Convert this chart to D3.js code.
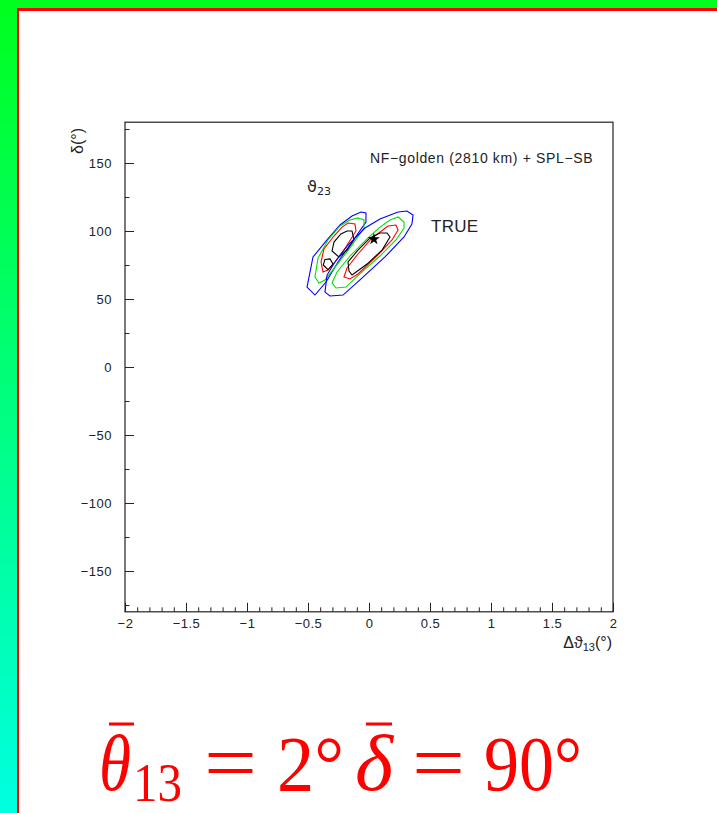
<!DOCTYPE html>
<html><head><meta charset="utf-8">
<script src="https://cdn.jsdelivr.net/npm/d3@7"></script>
<style>body{margin:0;background:#fff;overflow:hidden}svg{display:block}</style>
</head><body>
<script>
// ---- data ----
const xTicks = [-2, -1.5, -1, -0.5, 0, 0.5, 1, 1.5, 2];
const yTicks = [-150, -100, -50, 0, 50, 100, 150];
const xDomain = [-2, 2];
const yDomain = [-180, 180];
// contours: [Δθ13 (deg), δ (deg)]
const leftBlue  = [[-0.066,114.0],[-0.025,113.2],[-0.025,106.6],[-0.139,91.9],[-0.254,77.2],[-0.352,62.5],[-0.443,52.9],[-0.508,58.8],[-0.459,80.9],[-0.344,93.4],[-0.238,104.4],[-0.139,111.0]];
const leftGreen = [[-0.090,109.6],[-0.041,108.1],[-0.041,102.2],[-0.156,87.5],[-0.270,74.3],[-0.361,64.0],[-0.410,61.8],[-0.443,66.2],[-0.418,80.1],[-0.336,93.4],[-0.238,103.7],[-0.156,108.1]];
const leftRed   = [[-0.172,105.9],[-0.115,105.1],[-0.107,100.0],[-0.189,88.2],[-0.279,77.2],[-0.336,71.3],[-0.377,69.9],[-0.393,77.2],[-0.369,86.8],[-0.287,96.3],[-0.221,102.9]];
const leftBlack = [[-0.180,100.0],[-0.139,100.0],[-0.123,93.4],[-0.180,86.0],[-0.246,80.9],[-0.303,85.3],[-0.287,91.9],[-0.230,97.8]];
const leftBlackSmall = [[-0.361,79.0],[-0.320,79.5],[-0.295,75.7],[-0.336,71.5],[-0.375,75.0]];
const rightBlue  = [[0.238,114.0],[0.311,114.7],[0.361,111.8],[0.352,105.1],[0.287,95.6],[0.131,80.9],[-0.074,64.0],[-0.213,52.9],[-0.320,52.2],[-0.361,55.1],[-0.344,67.6],[-0.279,77.2],[-0.172,89.7],[-0.033,102.2],[0.090,108.8]];
const rightGreen = [[0.172,108.1],[0.238,110.3],[0.287,106.6],[0.287,102.2],[0.221,93.4],[0.090,81.6],[-0.057,69.9],[-0.189,58.8],[-0.270,58.1],[-0.303,61.8],[-0.262,69.9],[-0.156,81.6],[-0.008,94.9],[0.090,102.9]];
const rightRed   = [[0.156,103.7],[0.221,104.4],[0.238,100.7],[0.189,93.4],[0.057,80.9],[-0.090,68.4],[-0.156,64.7],[-0.205,66.2],[-0.180,72.8],[-0.090,83.1],[0.025,94.9]];
const rightBlack = [[0.090,98.5],[0.148,98.5],[0.172,95.6],[0.107,86.0],[-0.016,75.7],[-0.139,67.6],[-0.164,70.6],[-0.172,77.2],[-0.090,86.0],[0.008,94.9]];
const trueValue = [0.04, 94];
const contours = [
  {pts: leftBlue, color: "#0000ff"}, {pts: leftGreen, color: "#00e000"}, {pts: leftRed, color: "#ff0000"},
  {pts: leftBlack, color: "#000000"}, {pts: leftBlackSmall, color: "#000000"},
  {pts: rightBlue, color: "#0000ff"}, {pts: rightGreen, color: "#00e000"}, {pts: rightRed, color: "#ff0000"},
  {pts: rightBlack, color: "#000000"}
];

const W = 717, H = 813;
const svg = d3.select("body").append("svg").attr("width", W).attr("height", H);

// frame / background decoration
const defs = svg.append("defs");
const grad = defs.append("linearGradient").attr("id","lg").attr("x1",0).attr("y1",0).attr("x2",0).attr("y2",1);
grad.append("stop").attr("offset","0%").attr("stop-color","rgb(0,255,30)");
grad.append("stop").attr("offset","100%").attr("stop-color","rgb(0,255,225)");
svg.append("rect").attr("x",0).attr("y",0).attr("width",17).attr("height",H).attr("fill","url(#lg)");
svg.append("rect").attr("x",0).attr("y",0).attr("width",W).attr("height",8).attr("fill","rgb(0,255,30)");
svg.append("rect").attr("x",17).attr("y",8).attr("width",W-17).attr("height",3).attr("fill","#ff0000");
svg.append("rect").attr("x",17).attr("y",8).attr("width",2).attr("height",H-8).attr("fill","#ff0000");

const L = 125, R = 613, T = 122.2, B = 611.8;
const x = d3.scaleLinear().domain(xDomain).range([L, R]);
const y = d3.scaleLinear().domain(yDomain).range([B, T]);
const fmt = v => d3.format("")(v).replace("-", "\u2212");
const font = "'Liberation Sans', Arial, Helvetica, sans-serif";
const ink = "#222";

// minor ticks
const xMinor = d3.range(-20, 21).map(i => i / 10);
const yMinor = d3.range(-7, 8).map(i => i * 25);
svg.append("g").attr("transform", `translate(0,${B})`)
  .call(d3.axisBottom(x).tickValues(xMinor).tickSize(-4.5).tickFormat(""))
  .call(g => g.select(".domain").remove());
svg.append("g").attr("transform", `translate(${L},0)`)
  .call(d3.axisLeft(y).tickValues(yMinor).tickSize(-4.5).tickFormat(""))
  .call(g => g.select(".domain").remove());
// major
const styleLabels = g => g.selectAll("text").attr("font-family", font).attr("font-size", 13)
  .attr("letter-spacing", 0.5).attr("fill", ink);
svg.append("g").attr("transform", `translate(0,${B})`)
  .call(d3.axisBottom(x).tickValues(xTicks).tickSize(-9).tickPadding(6.5).tickFormat(fmt))
  .call(g => g.select(".domain").remove())
  .call(styleLabels);
svg.append("g").attr("transform", `translate(${L},0)`)
  .call(d3.axisLeft(y).tickValues(yTicks).tickSize(-9).tickPadding(13).tickFormat(fmt))
  .call(g => g.select(".domain").remove())
  .call(styleLabels);
svg.selectAll(".tick line").attr("stroke", ink);

svg.append("rect").attr("x", L).attr("y", T).attr("width", R - L).attr("height", B - T)
  .attr("fill", "none").attr("stroke", ink).attr("stroke-width", 1.2);

// contours
const line = d3.line().x(d => x(d[0])).y(d => y(d[1])).curve(d3.curveLinearClosed);
svg.append("g").selectAll("path").data(contours).join("path")
  .attr("d", d => line(d.pts)).attr("fill", "none").attr("stroke", d => d.color).attr("stroke-width", 1.1);

// true value star
svg.append("path").attr("d", d3.symbol(d3.symbolStar, 45)())
  .attr("transform", `translate(${x(trueValue[0])},${y(trueValue[1])})`).attr("fill", "#000");

// texts in plot
svg.append("text").attr("x", 370).attr("y", 163).attr("font-family", font).attr("font-size", 14)
  .attr("letter-spacing", 0.65).attr("fill", ink)
  .text("NF\u2212golden (2810 km) + SPL\u2212SB");
svg.append("text").attr("x", 431).attr("y", 231.5).attr("font-family", font).attr("font-size", 17)
  .attr("letter-spacing", 0.3).attr("fill", ink).text("TRUE");
const t23 = svg.append("text").attr("x", 307).attr("y", 192).attr("font-family", "'DejaVu Sans', sans-serif").attr("font-size", 16).attr("fill", ink);
t23.append("tspan").text("\u03D1");
t23.append("tspan").attr("font-size", 11).attr("dy", 3).text("23");

// axis titles
const yl = svg.append("text").attr("transform", "translate(83,154) rotate(-90)").attr("font-family", font).attr("font-size", 16).attr("fill", ink);
yl.append("tspan").text("\u03B4(\u00B0)");
const xl = svg.append("text").attr("x", 612).attr("y", 648).attr("text-anchor", "end").attr("font-family", font).attr("font-size", 16).attr("fill", ink);
xl.append("tspan").text("\u0394\u03D1");
xl.append("tspan").attr("font-size", 11).attr("dy", 3).text("13");
xl.append("tspan").attr("dy", -3).text("(\u00B0)");

// big formula (one text element, positioned pieces)
const serif = "'Liberation Serif', 'Times New Roman', serif";
const red = "#ff0000";
const big = svg.append("g").attr("fill", red);
big.append("rect").attr("x", 109).attr("y", 722.5).attr("width", 25).attr("height", 3);
big.append("rect").attr("x", 366).attr("y", 722.5).attr("width", 26).attr("height", 3);
const ft = big.append("text").attr("font-family", serif).attr("font-size", 78);
const pieces = [
  {t: "\u03B8", x: 99, y: 790, len: 32, size: 80, it: true},
  {t: "13", x: 133, y: 801, len: 49, size: 54},
  {t: "=", x: 204, y: 790, len: 53, size: 80},
  {t: "2\u00B0", x: 277, y: 790, len: 67, size: 78},
  {t: "\u03B4", x: 355, y: 790, len: 38, size: 80, it: true},
  {t: "=", x: 412, y: 790, len: 53, size: 80},
  {t: "90\u00B0", x: 484, y: 790, len: 98, size: 78}
];
pieces.forEach(p => ft.append("tspan").attr("x", p.x).attr("y", p.y).attr("font-size", p.size)
  .attr("font-style", p.it ? "italic" : "normal").attr("textLength", p.len)
  .attr("lengthAdjust", "spacingAndGlyphs").text(p.t));
</script>
</body></html>
